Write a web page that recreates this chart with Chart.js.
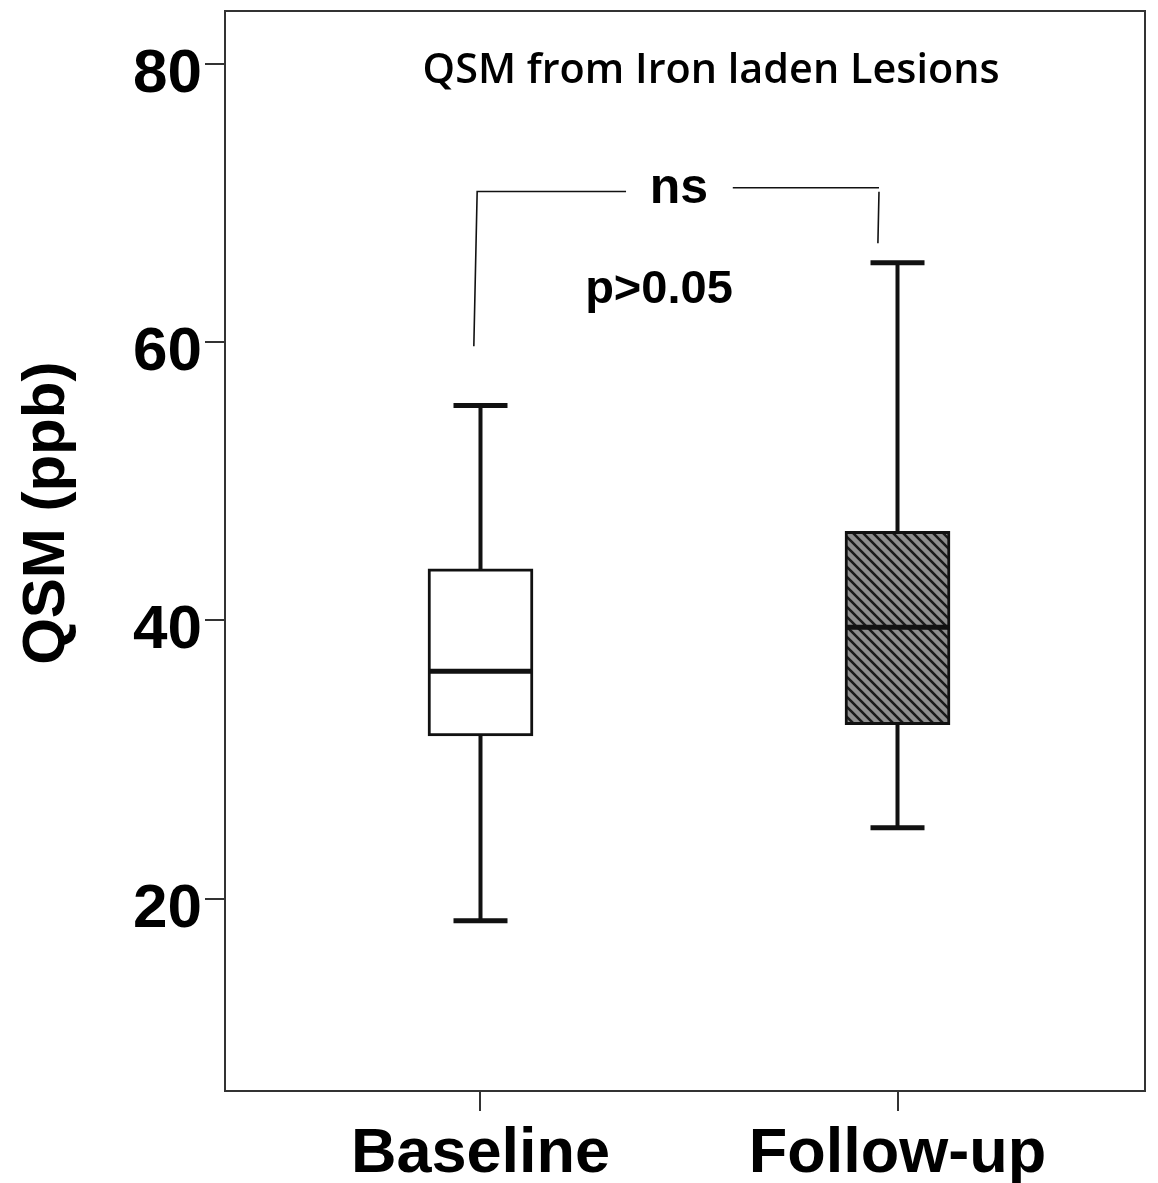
<!DOCTYPE html>
<html>
<head>
<meta charset="utf-8">
<script src="https://cdn.jsdelivr.net/npm/chart.js@4"></script>
<style>
html, body { margin: 0; padding: 0; background: #fff; }
</style>
</head>
<body>
<canvas id="myChart" width="1158" height="1183"></canvas>
<script>
// box plot values (ppb)
const groups = ['Baseline', 'Follow-up'];
const whiskerLow = [18.4, 25.1];
const q1 = [31.7, 32.5];
const median = [36.35, 39.5];
const q3 = [43.7, 46.4];
const whiskerHigh = [55.45, 65.7];
const yTicks = [20, 40, 60, 80];

const titleText = 'QSM from Iron laden Lesions';
const axisTitle = 'QSM (ppb)';
const sigText = 'ns';
const pText = 'p>0.05';

const ink = '#111';
const frame = '#333';

function hatch() {
  const c = document.createElement('canvas');
  c.width = 10; c.height = 10;
  const g = c.getContext('2d');
  g.fillStyle = '#8e8e8e';
  g.fillRect(0, 0, 10, 10);
  g.strokeStyle = '#1a1a1a';
  g.lineWidth = 2.6;
  g.beginPath();
  g.moveTo(-2, -2); g.lineTo(12, 12);
  g.moveTo(-2, 8); g.lineTo(2, 12);
  g.moveTo(8, -2); g.lineTo(12, 2);
  g.stroke();
  return g.createPattern(c, 'repeat');
}

const ctx = document.getElementById('myChart');

// whiskers, caps, medians, frame and the text inside the plot
const boxExtras = {
  id: 'boxExtras',
  afterDatasetsDraw(chart) {
    const { ctx, chartArea: a, scales: { x, y } } = chart;
    ctx.save();
    ctx.strokeStyle = ink;
    ctx.lineCap = 'butt';
    groups.forEach((g, i) => {
      const px = x.getPixelForValue(i);
      ctx.lineWidth = 4;
      ctx.beginPath();
      ctx.moveTo(px, y.getPixelForValue(q3[i]));
      ctx.lineTo(px, y.getPixelForValue(whiskerHigh[i]));
      ctx.moveTo(px, y.getPixelForValue(q1[i]));
      ctx.lineTo(px, y.getPixelForValue(whiskerLow[i]));
      ctx.stroke();
      ctx.lineWidth = 5;
      ctx.beginPath();
      [whiskerHigh[i], whiskerLow[i]].forEach(v => {
        ctx.moveTo(px - 27, y.getPixelForValue(v));
        ctx.lineTo(px + 27, y.getPixelForValue(v));
      });
      ctx.moveTo(px - 51, y.getPixelForValue(median[i]));
      ctx.lineTo(px + 51, y.getPixelForValue(median[i]));
      ctx.stroke();
    });

    // plot frame
    ctx.strokeStyle = frame;
    ctx.lineWidth = 2;
    ctx.strokeRect(a.left, a.top, a.right - a.left, a.bottom - a.top);

    // significance bracket
    ctx.strokeStyle = ink;
    ctx.lineWidth = 1.6;
    ctx.beginPath();
    ctx.moveTo(x.getPixelForValue(-0.016), y.getPixelForValue(59.7));
    ctx.lineTo(x.getPixelForValue(-0.008), y.getPixelForValue(70.83));
    ctx.lineTo(x.getPixelForValue(0.349), y.getPixelForValue(70.83));
    ctx.moveTo(x.getPixelForValue(0.605), y.getPixelForValue(71.1));
    ctx.lineTo(x.getPixelForValue(0.9556), y.getPixelForValue(71.1));
    ctx.moveTo(x.getPixelForValue(0.9556), y.getPixelForValue(70.8));
    ctx.lineTo(x.getPixelForValue(0.953), y.getPixelForValue(67.1));
    ctx.stroke();

    ctx.fillStyle = '#000';
    ctx.textAlign = 'center';
    ctx.textBaseline = 'alphabetic';
    ctx.font = 'bold 50px "Liberation Sans", Arial, sans-serif';
    ctx.fillText(sigText, x.getPixelForValue(0.476), y.getPixelForValue(70.0));
    ctx.font = 'bold 47px "Liberation Sans", Arial, sans-serif';
    ctx.fillText(pText, x.getPixelForValue(0.428), y.getPixelForValue(62.8));

    // title, fitted to the width it has in the figure
    ctx.font = '600 41px "Open Sans", sans-serif';
    const w = ctx.measureText(titleText).width;
    const tx = x.getPixelForValue(0.553), ty = y.getPixelForValue(78.66);
    ctx.translate(tx, ty);
    ctx.scale(577 / w, 1);
    ctx.fillText(titleText, 0, 0);
    ctx.restore();

    // y axis title
    ctx.save();
    ctx.fillStyle = '#000';
    ctx.font = 'bold 60px "Liberation Sans", Arial, sans-serif';
    ctx.textAlign = 'center';
    ctx.textBaseline = 'middle';
    ctx.translate(47, y.getPixelForValue(47.7));
    ctx.rotate(-Math.PI / 2);
    ctx.fillText(axisTitle, 0, 0);
    ctx.restore();
  }
};

const chart = new Chart(ctx, {
  type: 'bar',
  data: {
    datasets: [{
      label: 'IQR',
      data: groups.map((g, i) => ({ x: i, y: [q1[i], q3[i]] })),
      backgroundColor: ['#ffffff', hatch()],
      borderColor: ink,
      borderWidth: 3,
      borderSkipped: false,
      barThickness: 105
    }]
  },
  options: {
    responsive: false,
    animation: false,
    devicePixelRatio: 1,
    layout: { padding: { top: 11, right: 13, left: 0, bottom: 0 } },
    plugins: { legend: { display: false }, tooltip: { enabled: false } },
    scales: {
      x: {
        type: 'linear',
        offset: false,
        min: -0.6127,
        max: 1.5935,
        afterBuildTicks: axis => { axis.ticks = groups.map((g, i) => ({ value: i })); },
        afterFit: axis => { axis.height = 92; axis.paddingLeft = 0; axis.paddingRight = 0; },
        ticks: {
          callback: (v, i) => groups[i],
          color: '#000',
          padding: 6,
          maxRotation: 0,
          font: { family: '"Liberation Sans", Arial, sans-serif', size: 63, weight: 'bold' }
        },
        grid: { offset: false, drawOnChartArea: false, tickLength: 20, color: frame, lineWidth: 2 },
        border: { display: true, color: frame, width: 2 }
      },
      y: {
        min: 6.17,
        max: 83.8,
        afterBuildTicks: axis => { axis.ticks = yTicks.map(v => ({ value: v })); },
        afterFit: axis => { axis.width = 225; axis.paddingTop = 0; axis.paddingBottom = 0; },
        ticks: {
          color: '#000',
          padding: 3,
          labelOffset: 11,
          font: { family: '"Liberation Sans", Arial, sans-serif', size: 62, weight: 'bold' }
        },
        grid: { drawOnChartArea: false, tickLength: 20, color: frame, lineWidth: 2 },
        border: { display: true, color: frame, width: 2 }
      }
    }
  },
  plugins: [boxExtras]
});
</script>
</body>
</html>
